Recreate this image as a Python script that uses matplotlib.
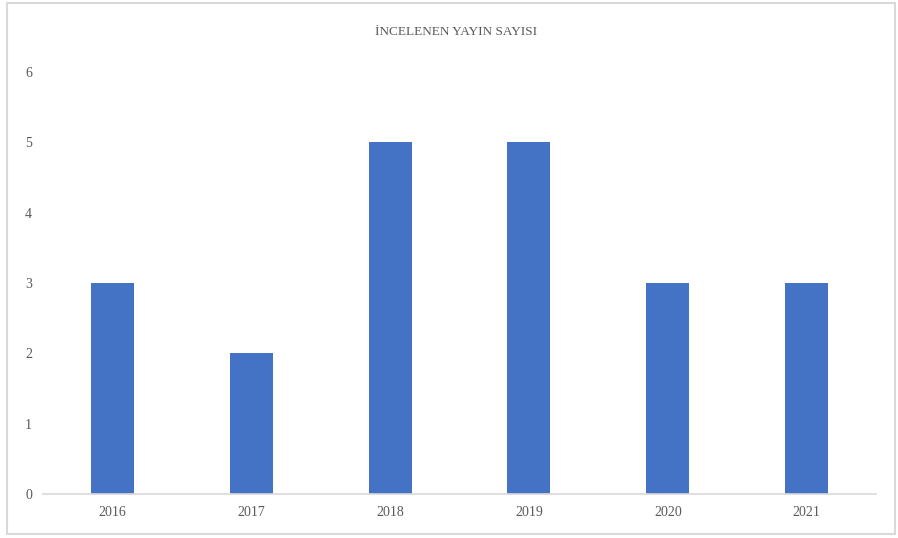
import matplotlib.pyplot as plt
from matplotlib.patches import Rectangle

years = ["2016", "2017", "2018", "2019", "2020", "2021"]
counts = [3, 2, 5, 5, 3, 3]

plt.rcParams['font.family'] = ['Liberation Serif', 'DejaVu Serif']

fig = plt.figure(figsize=(8.98, 5.38), dpi=100)
ax = fig.add_axes([0.048, 0.0818, 0.9275, 0.7844])

x = range(len(years))
ax.bar(x, counts, width=0.31, color="#4472C4")

ax.set_xlim(-0.5, len(years) - 0.5)
ax.set_ylim(0, 6)
ax.set_xticks(list(x))
ax.set_xticklabels(years)
ax.set_yticks(range(0, 7))

for s in ["top", "right", "left"]:
    ax.spines[s].set_visible(False)
ax.spines["bottom"].set_color("#D9D9D9")
ax.spines["bottom"].set_linewidth(1.2)
ax.tick_params(axis="both", length=0, labelsize=10, colors="#595959")
ax.tick_params(axis="x", pad=9)
ax.tick_params(axis="y", pad=8)

fig.text(0.508, 0.940, "İNCELENEN YAYIN SAYISI", ha="center", va="center",
         fontsize=9.5, color="#595959")

fig.patches.append(Rectangle((7 / 898, 4 / 538), 888 / 898, 531 / 538,
                             transform=fig.transFigure, fill=False,
                             edgecolor="#D9D9D9", linewidth=1.5))

fig.savefig("out.png", dpi=100)
